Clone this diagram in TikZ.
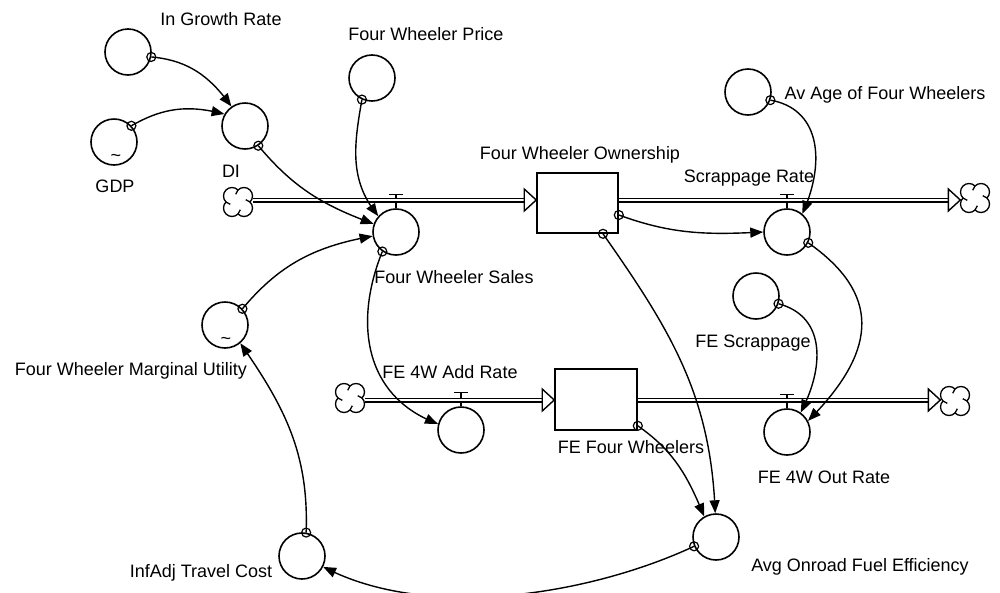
\documentclass[tikz,border=0pt]{standalone}
\usepackage{fontspec}
\setmainfont{Liberation Sans}
\usetikzlibrary{arrows.meta,bending}

% four-lobed source/sink cloud drawn round the centre of a named node
\newcommand\vcloud[1]{%
  \draw[cloudline] (#1.center) ++(12,0)
    arc[start angle=-45,end angle=135,radius=8.485]
    arc[start angle=45,end angle=225,radius=8.485]
    arc[start angle=135,end angle=315,radius=8.485]
    arc[start angle=225,end angle=405,radius=8.485] -- cycle;
  \draw[cloudline] (#1.center) ++(0,12) arc[start angle=135,end angle=168,radius=8.485];
  \draw[cloudline] (#1.center) ++(-12,0) arc[start angle=225,end angle=258,radius=8.485];
  \draw[cloudline] (#1.center) ++(0,-12) arc[start angle=315,end angle=348,radius=8.485];
  \draw[cloudline] (#1.center) ++(12,0) arc[start angle=45,end angle=78,radius=8.485];
}

\begin{document}
\begin{tikzpicture}[x=1pt,y=1pt,
  aux/.style={circle,draw,line width=1.6pt,minimum size=46pt,inner sep=0pt},
  stockbox/.style={draw,line width=1.6pt,minimum width=81pt,minimum height=60pt,inner sep=0pt},
  lbl/.style={font=\fontsize{18}{22}\selectfont,inner sep=0pt,anchor=base},
  link/.style={line width=1.4pt,-{Triangle[length=13pt,width=10pt,bend]}},
  tailmark/.style={circle,draw,line width=1.2pt,minimum size=9pt,inner sep=0pt},
  pipe/.style={double,double distance=2.6pt,line width=1.2pt},
  flowhead/.style={draw,fill=white,line width=1.4pt,line join=miter},
  valve/.style={line width=1.4pt},
  cloudspot/.style={circle,minimum size=29pt,inner sep=0pt},
  cloudline/.style={line width=1.3pt},
  tildemark/.style={font=\fontsize{18}{18}\selectfont,inner sep=0pt}
]
\useasboundingbox (0,0) rectangle (1000,-592);

% auxiliaries and rates
\node[aux] (igr)   at (128,-52)  {};
\node[aux] (gdp)   at (114,-142) {};
\node[aux] (di)    at (245,-126) {};
\node[aux] (fwp)   at (372,-78)  {};
\node[aux] (sales) at (396,-232) {};
\node[aux] (mu)    at (225,-325) {};
\node[aux] (add)   at (461,-430) {};
\node[aux] (avage) at (748,-92)  {};
\node[aux] (scr)   at (787,-232) {};
\node[aux] (fescr) at (756,-296) {};
\node[aux] (outr)  at (787,-432) {};
\node[aux] (avg)   at (716,-537) {};
\node[aux] (inf)   at (302,-556) {};

% lookup marks
\node[tildemark] (gdpt) at (116,-158) {\textasciitilde};
\node[tildemark] (mut)  at (226,-341) {\textasciitilde};

% stocks
\node[stockbox] (fwo) at (577.5,-203) {};
\node[stockbox,minimum width=82pt,minimum height=61pt] (fefw) at (596,-399.5) {};

% valves
\draw[valve] (sales.north) -- ++(0,14) ++(-7,0) -- ++(14,0);
\draw[valve] (scr.north)   -- ++(0,14) ++(-7,0) -- ++(14,0);
\draw[valve] (add.north)   -- ++(0,14) ++(-7,0) -- ++(14,0);
\draw[valve] (outr.north)  -- ++(0,14) ++(-7,0) -- ++(14,0);

% sources and sinks
\node[cloudspot] (c1) at (238,-202) {};
\node[cloudspot] (c2) at (975,-198) {};
\node[cloudspot] (c3) at (350,-398) {};
\node[cloudspot] (c4) at (955,-401) {};
\vcloud{c1}
\vcloud{c2}
\vcloud{c3}
\vcloud{c4}

% flow pipes
\coordinate (p1) at (c1.east |- 0,-200);
\coordinate (h1) at (fwo.west |- p1);
\draw[pipe] (p1) -- ([xshift=-12pt]h1);
\draw[flowhead] (h1) -- ++(-12,11) -- ++(0,-22) -- cycle;

\coordinate (s1) at (fwo.east |- p1);
\coordinate (h2) at (c2.west |- p1);
\draw[pipe] (s1) -- ([xshift=-12pt]h2);
\draw[flowhead] (h2) -- ++(-12,11) -- ++(0,-22) -- cycle;

\coordinate (p3) at (c3.east |- 0,-400);
\coordinate (h3) at (fefw.west |- p3);
\draw[pipe] (p3) -- ([xshift=-12pt]h3);
\draw[flowhead] (h3) -- ++(-12,11) -- ++(0,-22) -- cycle;

\coordinate (s3) at (fefw.east |- p3);
\coordinate (h4) at (c4.west |- p3);
\draw[pipe] (s3) -- ([xshift=-12pt]h4);
\draw[flowhead] (h4) -- ++(-12,11) -- ++(0,-22) -- cycle;

% causal links
\draw[link] (igr.-12) to[out=-5,in=125] node[tailmark,pos=0]{} (di.125);
\draw[link] (gdp.43) to[out=30,in=165] node[tailmark,pos=0]{} (di.150);
\draw[link] (di.-56) to[out=-50,in=160] node[tailmark,pos=0]{} (sales.160);
\draw[link] (fwp.-115) to[out=-100,in=130] node[tailmark,pos=0]{} (sales.138);
\draw[link] (mu.43) to[out=50,in=190] node[tailmark,pos=0]{} (sales.190);
\draw[link] (sales.-125) to[out=-112,in=160,looseness=1.1] node[tailmark,pos=0]{} (add.165);
\draw[link] ([yshift=-12pt]fwo.east) to[out=-20,in=183] node[tailmark,pos=0]{} (scr.180);
\draw[link] (avage.-20) to[out=-10,in=65,looseness=1.15] node[tailmark,pos=0]{} (scr.50);
\draw[link] (scr.-27) to[out=-35,in=45,looseness=1.35] node[tailmark,pos=0]{} (outr.28);
\draw[link] (fescr.-19) to[out=-15,in=62,looseness=1.15] node[tailmark,pos=0]{} (outr.55);
\draw[link] ([xshift=25.5pt]fwo.south) to[out=-55,in=92] node[tailmark,pos=0]{} (avg.92);
\draw[link] ([yshift=5pt]fefw.south east) to[out=-35,in=112] node[tailmark,pos=0]{} (avg.120);
\draw[link] (avg.203) to[out=-155,in=-28,looseness=0.8] node[tailmark,pos=0]{} (inf.-27);
\draw[link] (inf.80) to[out=88,in=-55] node[tailmark,pos=0]{} (mu.-50);

% labels
\node[lbl] (tigr)   at (221,-25.5)  {In Growth Rate};
\node[lbl] (tgdp)   at (115,-192.5) {GDP};
\node[lbl] (tdi)    at (231,-177.5) {DI};
\node[lbl] (tfwp)   at (426,-40.5)  {Four Wheeler Price};
\node[lbl] (tfwo)   at (580,-159.5) {Four Wheeler Ownership};
\node[lbl] (tscr)   at (749,-182.5) {Scrappage Rate};
\node[lbl] (tavage) at (885,-99.5)  {Av Age of Four Wheelers};
\node[lbl] (tsales) at (454,-283.5) {Four Wheeler Sales};
\node[lbl] (tmu)    at (131,-375.5) {Four Wheeler Marginal Utility};
\node[lbl] (tadd)   at (450,-378.5) {FE 4W Add Rate};
\node[lbl] (tfescr) at (753,-347.5) {FE Scrappage};
\node[lbl] (tfefw)  at (631,-453.5) {FE Four Wheelers};
\node[lbl] (toutr)  at (824,-483.5) {FE 4W Out Rate};
\node[lbl] (tavg)   at (860,-571.5) {Avg Onroad Fuel Efficiency};
\node[lbl] (tinf)   at (201,-577.5) {InfAdj Travel Cost};
\end{tikzpicture}
\end{document}
